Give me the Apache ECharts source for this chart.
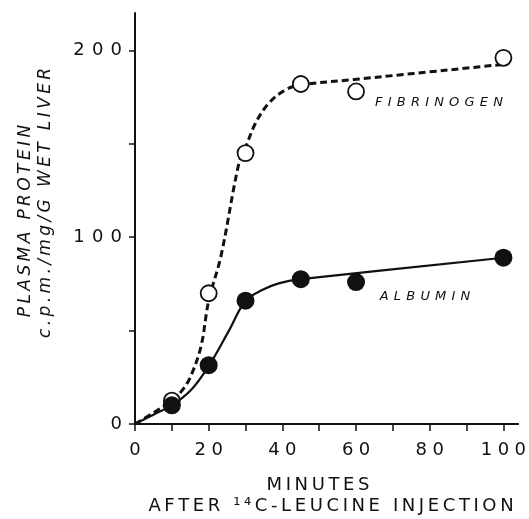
<!DOCTYPE html>
<html>
<head>
<meta charset="utf-8">
<script src="https://cdn.jsdelivr.net/npm/echarts@6/dist/echarts.min.js"></script>
<style>html,body{margin:0;padding:0;background:#fff}#c{width:529px;height:519px}</style>
</head>
<body>
<div id="c"></div>
<script>
// measured points
const minutes = [10, 20, 30, 45, 60, 100];
const fibrinogen = [12.5, 70, 145, 182, 178, 196];
const albumin = [10, 31.5, 66, 77.5, 76, 89];
// drawn (fitted) curves
const fibCurveX = [0, 5, 10, 12.8, 15, 17.9, 20, 23.3, 28.2, 30, 32.7, 36.3, 40.8, 45, 60, 100];
const fibCurveY = [0, 6, 12.5, 18, 25, 41.4, 66, 89.6, 139.6, 148, 161, 171.7, 178.8, 181.5, 184.5, 192.5];
const albCurveX = [0, 5, 10, 15.2, 20, 25.5, 30, 34.5, 39, 45, 100];
const albCurveY = [0, 5, 10, 18.2, 31, 50, 66, 71.7, 75.3, 77.5, 89];
// ticks
const xTicks = [0, 10, 20, 30, 40, 50, 60, 70, 80, 90, 100];
const xLabels = [0, 20, 40, 60, 80, 100];
const yTicks = [0, 50, 100, 150, 200];
const yLabels = [0, 100, 200];
// texts
const xTitle1 = 'MINUTES';
const xTitle2 = 'AFTER ¹⁴C-LEUCINE INJECTION';
const yTitle1 = 'PLASMA PROTEIN';
const yTitle2 = 'c.p.m./mg/G WET LIVER';
const fibName = 'FIBRINOGEN';
const albName = 'ALBUMIN';

const sp = (s, sep) => Array.from(String(s)).join(sep || '\u2009');
const zip = (a, b) => a.map((v, i) => [v, b[i]]);
const FONT = 'DejaVu Sans';
const INK = '#111';

const chart = echarts.init(document.getElementById('c'), null, {renderer: 'canvas'});
chart.setOption({
  animation: false,
  backgroundColor: '#fff',
  grid: {left: 135, right: 9, top: 13, bottom: 95, containLabel: false},
  xAxis: {
    type: 'value', min: 0, max: 104,
    axisLine: {show: true, onZero: false, lineStyle: {color: INK, width: 2}},
    axisTick: {show: true, length: 7, customValues: xTicks, lineStyle: {color: INK, width: 1.5}},
    axisLabel: {customValues: xLabels, margin: 17, color: INK, fontFamily: FONT, fontSize: 18,
      formatter: v => sp(v, '\u2009\u200A')},
    splitLine: {show: false}
  },
  yAxis: {
    type: 'value', min: 0, max: 220,
    axisLine: {show: true, onZero: false, lineStyle: {color: INK, width: 2}},
    axisTick: {show: true, length: 6, customValues: yTicks, lineStyle: {color: INK, width: 1.5}},
    axisLabel: {customValues: yLabels, margin: 13, color: INK, fontFamily: FONT, fontSize: 18,
      formatter: v => sp(v, '\u2009\u2009')},
    splitLine: {show: false}
  },
  series: [
    {type: 'line', data: zip(fibCurveX, fibCurveY), smooth: 0.35, showSymbol: false, z: 2,
      lineStyle: {color: INK, width: 3, type: [7, 4]}},
    {type: 'line', data: zip(albCurveX, albCurveY), smooth: 0.35, showSymbol: false, z: 2,
      lineStyle: {color: INK, width: 2.2}},
    {type: 'scatter', data: zip(minutes, fibrinogen), symbol: 'circle', symbolSize: 16, z: 5,
      itemStyle: {color: '#fff', borderColor: INK, borderWidth: 1.8, opacity: 1}},
    {type: 'scatter', data: zip(minutes, albumin), symbol: 'circle', symbolSize: 18, z: 5,
      itemStyle: {color: INK, opacity: 1}}
  ],
  graphic: [
    {type: 'text', x: 318, y: 485, style: {text: sp(xTitle1), font: '18px "DejaVu Sans"', fill: INK, align: 'center', verticalAlign: 'middle'}},
    {type: 'text', x: 331, y: 506, style: {text: sp(xTitle2), font: '18px "DejaVu Sans"', fill: INK, align: 'center', verticalAlign: 'middle'}},
    {type: 'text', x: 26, y: 221, rotation: Math.PI / 2, style: {text: sp(yTitle1), font: 'italic 17px "DejaVu Sans"', fill: INK, align: 'center', verticalAlign: 'middle'}},
    {type: 'text', x: 46, y: 203, rotation: Math.PI / 2, style: {text: sp(yTitle2), font: 'italic 17px "DejaVu Sans"', fill: INK, align: 'center', verticalAlign: 'middle'}},
    {type: 'text', x: 439, y: 103, style: {text: sp(fibName, '\u2009\u2009'), font: 'italic 13px "DejaVu Sans"', fill: INK, align: 'center', verticalAlign: 'middle'}},
    {type: 'text', x: 425, y: 297, style: {text: sp(albName, '\u2009\u2009'), font: 'italic 13px "DejaVu Sans"', fill: INK, align: 'center', verticalAlign: 'middle'}}
  ]
});
</script>
</body>
</html>
